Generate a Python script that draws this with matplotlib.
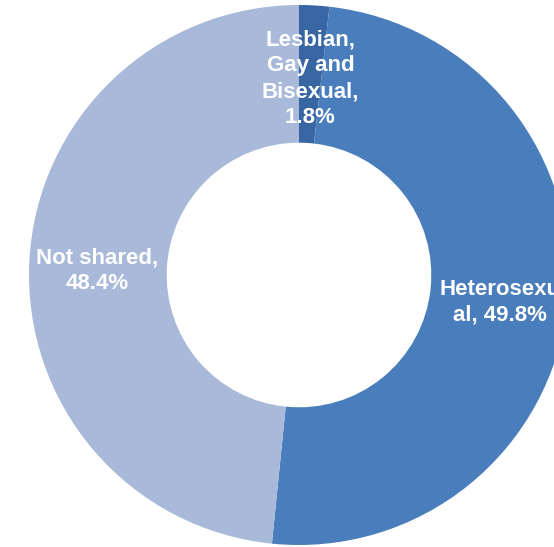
import numpy as np
import matplotlib.pyplot as plt

plt.rcParams['font.family'] = ['Liberation Sans', 'DejaVu Sans']

categories = ['Lesbian,\nGay and\nBisexual,', 'Heterosexu\nal,', 'Not shared,']
shares = [1.8, 49.8, 48.4]
colors = ['#3766a3', '#4a7dbb', '#a8b9da']

fig = plt.figure(figsize=(5.54, 5.47), dpi=100)
ax = fig.add_axes([0, 0, 1, 1])

# the heterosexual label keeps its value on the wrapped second line
labels = []
for name, v in zip(categories, shares):
    sep = ' ' if name.startswith('Hetero') else '\n'
    labels.append(f'{name}{sep}{v}%')

wedges, texts = ax.pie(shares, labels=labels, colors=colors, startangle=90,
                       counterclock=False, radius=1.0, labeldistance=0.75,
                       wedgeprops=dict(width=0.51, linewidth=0),
                       textprops=dict(color='white', fontsize=16, fontweight='bold'))

# 270 px per data unit, donut centre at pixel (299, 275)
scale = 270.0
for t in texts:
    t.set_ha('center')
    t.set_va('center')
    t.set_multialignment('center')
    t.set_linespacing(1.3)
    x, y = t.get_position()
    t.set_position((x, y - 6 / scale))

ax.set_xlim(-299 / scale, (554 - 299) / scale)
ax.set_ylim(-(547 - 275) / scale, 275 / scale)
ax.set_aspect('equal', adjustable='datalim')
ax.axis('off')

fig.savefig('out.png', dpi=100, facecolor='white')
